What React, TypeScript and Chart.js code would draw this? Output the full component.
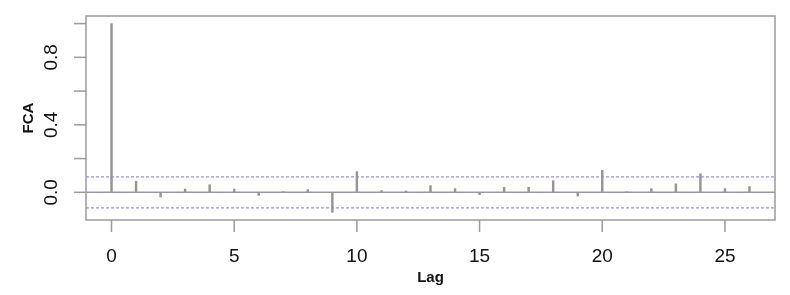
import React, { useEffect, useRef } from "react";
import { Chart, registerables } from "chart.js";

Chart.register(...registerables);

const lags = [0, 1, 2, 3, 4, 5, 6, 7, 8, 9, 10, 11, 12, 13, 14, 15, 16, 17, 18, 19, 20, 21, 22, 23, 24, 25, 26];
const acfValues = [
  1.0, 0.065, -0.028, 0.02, 0.045, 0.02, -0.018, 0.004, 0.016, -0.119,
  0.123, 0.01, 0.008, 0.04, 0.022, -0.014, 0.03, 0.03, 0.069, -0.022,
  0.13, 0.003, 0.022, 0.05, 0.11, 0.022, 0.034,
];
const ciBound = 0.092;
const xTicks = [0, 5, 10, 15, 20, 25];
const xTickLabels = ["0", "5", "10", "15", "20", "25"];
const yTicks = [0, 0.2, 0.4, 0.6, 0.8, 1.0];
const yTickLabels = ["0.0", "", "0.4", "", "0.8", ""];
const xTitle = "Lag";
const yTitle = "FCA";

const X_MIN = -1.04;
const X_MAX = 27.04;
const Y_MIN = -0.164;
const Y_MAX = 1.045;

const AXIS_COLOR = "#9a9a9a";
const BAR_COLOR = "#959595";
const CI_COLOR = "#9090ff";
const FONT = "'Liberation Sans', Arial, sans-serif";

const rAxesPlugin = {
  id: "rAxes",
  afterDraw(chart: any) {
    const { ctx, chartArea, scales } = chart;
    const xs = scales.x;
    const ys = scales.y;
    ctx.save();
    ctx.strokeStyle = AXIS_COLOR;
    ctx.lineWidth = 1.5;
    ctx.strokeRect(chartArea.left, chartArea.top, chartArea.right - chartArea.left, chartArea.bottom - chartArea.top);

    // x ticks
    ctx.fillStyle = "#111";
    ctx.font = `19px ${FONT}`;
    ctx.textAlign = "center";
    ctx.textBaseline = "middle";
    xTicks.forEach((t, i) => {
      const px = xs.getPixelForValue(t);
      ctx.beginPath();
      ctx.moveTo(px, chartArea.bottom);
      ctx.lineTo(px, chartArea.bottom + 12);
      ctx.stroke();
      ctx.fillText(xTickLabels[i], px, chartArea.bottom + 37);
    });

    // y ticks
    yTicks.forEach((t, i) => {
      const py = ys.getPixelForValue(t);
      ctx.beginPath();
      ctx.moveTo(chartArea.left - 12, py);
      ctx.lineTo(chartArea.left, py);
      ctx.stroke();
      if (yTickLabels[i]) {
        ctx.save();
        ctx.translate(chartArea.left - 34, py);
        ctx.rotate(-Math.PI / 2);
        ctx.fillText(yTickLabels[i], 0, 0);
        ctx.restore();
      }
    });

    // titles
    ctx.font = `bold 15px ${FONT}`;
    ctx.fillText(xTitle, (chartArea.left + chartArea.right) / 2, chartArea.bottom + 58);
    ctx.save();
    ctx.translate(chartArea.left - 57, (chartArea.top + chartArea.bottom) / 2);
    ctx.rotate(-Math.PI / 2);
    ctx.fillText(yTitle, 0, 0);
    ctx.restore();
    ctx.restore();
  },
};

export default function App() {
  const canvasRef = useRef<HTMLCanvasElement | null>(null);

  useEffect(() => {
    if (!canvasRef.current) return;
    const chart = new Chart(canvasRef.current, {
      type: "bar",
      data: {
        datasets: [
          {
            type: "line",
            data: [
              { x: X_MIN, y: 0 },
              { x: X_MAX, y: 0 },
            ],
            borderColor: AXIS_COLOR,
            borderWidth: 1.5,
            pointRadius: 0,
            order: 1,
          } as any,
          {
            type: "bar",
            data: lags.map((l, i) => ({ x: l, y: acfValues[i] })),
            backgroundColor: BAR_COLOR,
            barThickness: 1.8,
            grouped: false,
            order: 0,
          } as any,
          {
            type: "line",
            data: [
              { x: X_MIN, y: ciBound },
              { x: X_MAX, y: ciBound },
            ],
            borderColor: CI_COLOR,
            borderWidth: 1.2,
            borderDash: [3, 2],
            pointRadius: 0,
            order: 2,
          } as any,
          {
            type: "line",
            data: [
              { x: X_MIN, y: -ciBound },
              { x: X_MAX, y: -ciBound },
            ],
            borderColor: CI_COLOR,
            borderWidth: 1.2,
            borderDash: [3, 2],
            pointRadius: 0,
            order: 2,
          } as any,
        ],
      },
      options: {
        responsive: false,
        animation: false,
        devicePixelRatio: 1,
        layout: { padding: { left: 86, top: 16, right: 15, bottom: 75 } },
        plugins: { legend: { display: false }, tooltip: { enabled: false } },
        scales: {
          x: { type: "linear", min: X_MIN, max: X_MAX, offset: false, display: false, grid: { offset: false } },
          y: { type: "linear", min: Y_MIN, max: Y_MAX, display: false },
        },
      },
      plugins: [rAxesPlugin],
    });
    return () => chart.destroy();
  }, []);

  return (
    <div style={{ position: "fixed", left: 0, top: 0, width: 790, height: 295, background: "#fff" }}>
      <canvas ref={canvasRef} width={790} height={295} />
    </div>
  );
}
